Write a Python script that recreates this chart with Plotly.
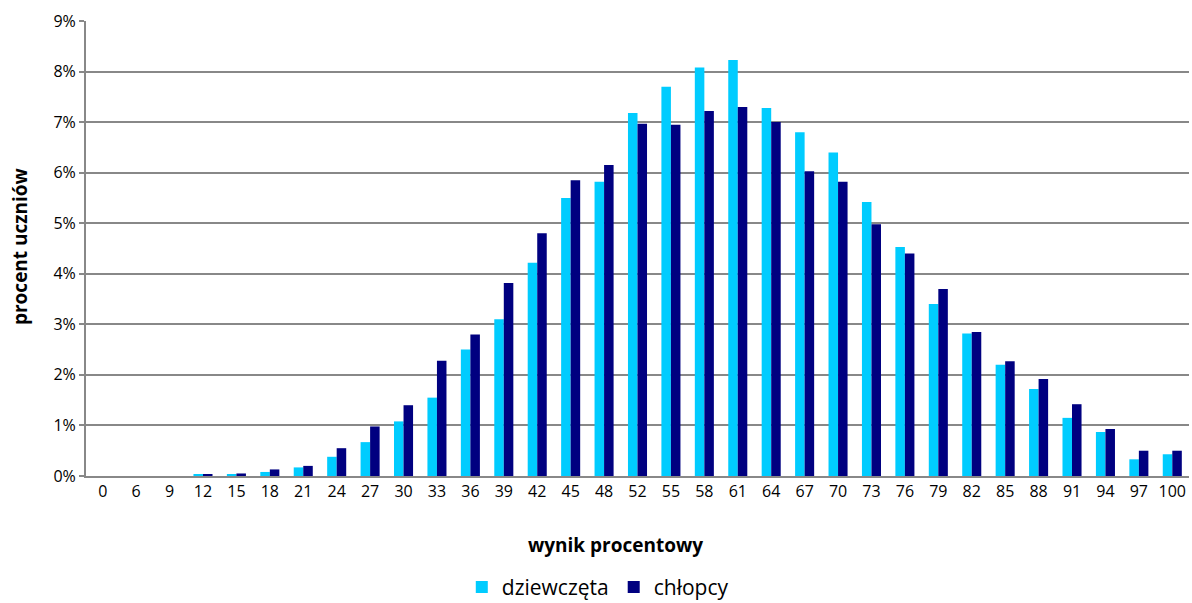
import plotly.graph_objects as go

categories = ["0", "6", "9", "12", "15", "18", "21", "24", "27", "30", "33", "36", "39", "42", "45", "48",
              "52", "55", "58", "61", "64", "67", "70", "73", "76", "79", "82", "85", "88", "91", "94", "97", "100"]
dziewczeta = [0.0, 0.0, 0.0, 0.02, 0.03, 0.08, 0.17, 0.38, 0.67, 1.08, 1.55, 2.5, 3.1, 4.22, 5.5, 5.82,
              7.18, 7.7, 8.08, 8.23, 7.28, 6.8, 6.4, 5.42, 4.53, 3.4, 2.82, 2.2, 1.72, 1.15, 0.87, 0.33, 0.43]
chlopcy = [0.0, 0.0, 0.0, 0.02, 0.05, 0.13, 0.2, 0.55, 0.98, 1.4, 2.28, 2.8, 3.82, 4.8, 5.85, 6.15,
           6.97, 6.95, 7.22, 7.3, 7.0, 6.03, 5.82, 4.98, 4.4, 3.7, 2.85, 2.27, 1.92, 1.42, 0.93, 0.5, 0.5]
y_ticks = [0, 1, 2, 3, 4, 5, 6, 7, 8, 9]
y_tick_labels = [f"{v}%" for v in y_ticks]

font = "Open Sans, Noto Sans, sans-serif"

fig = go.Figure()
fig.add_trace(go.Bar(x=categories, y=dziewczeta, name="dziewczęta",
                     marker=dict(color="#00CCFF", line=dict(width=0))))
fig.add_trace(go.Bar(x=categories, y=chlopcy, name="chłopcy",
                     marker=dict(color="#000080", line=dict(width=0))))

fig.update_layout(
    width=1192, height=603,
    margin=dict(l=86, r=3, t=21, b=127),
    paper_bgcolor="white", plot_bgcolor="white",
    barmode="group", bargap=0.43, bargroupgap=0,
    font=dict(family=font, size=15, color="black"),
    showlegend=True,
    legend=dict(orientation="h", xref="paper", x=0.464, xanchor="center",
                yref="container", y=0.026, yanchor="middle",
                font=dict(size=21), itemwidth=30, traceorder="normal"),
    xaxis=dict(
        type="category", showgrid=False, showline=True, linecolor="#888888", linewidth=2,
        ticks="", tickfont=dict(size=16), automargin=False,
    ),
    yaxis=dict(
        range=[0, 9], tickvals=y_ticks, ticktext=y_tick_labels,
        showgrid=True, gridcolor="#888888", gridwidth=1.5,
        showline=True, linecolor="#888888", linewidth=2,
        ticks="outside", ticklen=5, tickcolor="#888888", tickwidth=1.5,
        tickfont=dict(size=16), zeroline=False, automargin=False,
    ),
    annotations=[
        dict(text="<b>wynik procentowy</b>", xref="paper", yref="paper", x=0.48, y=-0.152,
             xanchor="center", yanchor="middle", showarrow=False, font=dict(size=19)),
        dict(text="<b>procent uczniów</b>", xref="paper", yref="paper", x=-0.06, y=0.505,
             xanchor="center", yanchor="middle", showarrow=False, textangle=-90,
             font=dict(size=19)),
    ],
)

fig.write_html("out.html", config={"displayModeBar": False},
               post_script="document.body.style.margin='0';")
